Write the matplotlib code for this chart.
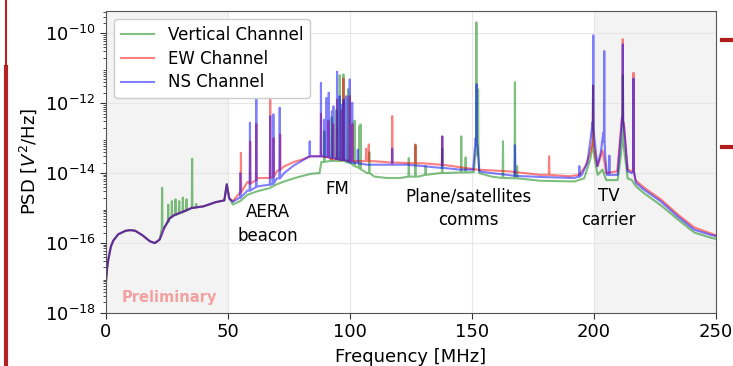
import numpy as np
import matplotlib
matplotlib.use("Agg")
import matplotlib.pyplot as plt
from matplotlib.lines import Line2D
from matplotlib.ticker import LogLocator, NullFormatter

# baseline knots: (frequency MHz, log10 PSD)
low_band = [
    (0.0, -17.1), (0.5, -16.7), (1.0, -16.45), (2.0, -16.1), (3.0, -15.93),
    (5.0, -15.75), (8.0, -15.65), (10.0, -15.63), (12.0, -15.65), (15.0, -15.78),
    (18.0, -15.95), (20.0, -16.0), (22.0, -15.9), (24.0, -15.55), (26.0, -15.3),
    (28.0, -15.2), (31.0, -15.12), (35.0, -15.0), (40.0, -14.95), (45.0, -14.83),
    (48.5, -14.78), (49.5, -14.32), (50.5, -14.72),
]

ew_base = [
    (52, -14.8), (55, -14.55), (58, -14.25), (62, -14.14), (66, -14.14), (70, -13.95),
    (73, -13.81), (77, -13.68), (80, -13.62), (84, -13.52), (88, -13.52), (92, -13.6),
    (96, -13.62), (100, -13.66), (105, -13.66), (110, -13.66), (120, -13.7), (130, -13.72),
    (137, -13.76), (145, -13.83), (152, -13.9), (157, -13.92), (165, -13.95), (178, -14.05),
    (190, -14.09), (194, -14.05), (196.5, -13.8), (198.5, -13.4), (199.4, -13.1),
    (200.5, -13.5), (201.5, -13.8), (203.5, -13.35), (205, -14.0), (209.5, -13.95),
    (211, -12.8), (211.5, -12.4), (212.3, -12.6), (213.8, -13.9), (215.5, -13.95),
    (217, -14.2), (220.6, -14.42), (227.4, -14.75), (234.3, -15.18), (241, -15.55),
    (248, -15.73), (250, -15.78),
]

ns_base = [
    (52, -14.82), (55, -14.7), (58, -14.5), (62, -14.38), (67, -14.33), (70, -14.15),
    (73, -14.0), (77, -13.78), (80, -13.66), (85, -13.52), (88, -13.52), (92, -13.55),
    (96, -13.62), (100, -13.7), (107, -13.76), (115, -13.76), (123, -13.76), (130, -13.8),
    (137, -13.85), (145, -13.9), (150.5, -13.9), (151.5, -13.0), (152.3, -13.2),
    (153, -13.95), (158, -14.0), (164.5, -14.05), (178, -14.11), (192, -14.14),
    (195, -14.05), (197.3, -13.7), (198.8, -12.9), (199.4, -12.55), (200, -12.9),
    (201.4, -13.8), (202.8, -13.4), (203.8, -12.85), (204.6, -13.5), (205.3, -14.05),
    (209.7, -14.05), (211, -12.9), (211.5, -12.4), (212.3, -12.7), (213.8, -13.95),
    (215.5, -14.0), (217.2, -14.28), (220.6, -14.48), (227.4, -14.81), (234.3, -15.24),
    (241.1, -15.62), (248, -15.77), (250, -15.8),
]

vert_base = [
    (52, -14.9), (55, -14.8), (58, -14.62), (62, -14.52), (67, -14.43), (70, -14.32),
    (73, -14.24), (77, -14.15), (80, -14.09), (84, -14.02), (87.5, -14.0), (88.3, -13.68),
    (92, -13.65), (96, -13.65), (100, -13.7), (102, -13.8), (104.6, -13.9), (107, -14.0),
    (110, -14.1), (115, -14.14), (120.7, -14.14), (128, -14.1), (137, -14.0),
    (145, -13.98), (150.8, -13.97), (151.5, -13.3), (152.3, -13.5), (153, -14.0),
    (158, -14.1), (164.5, -14.14), (178, -14.22), (192, -14.24), (196, -14.15),
    (198.5, -13.6), (199.4, -13.25), (200.3, -13.6), (201.5, -14.05), (203.5, -13.9),
    (205, -14.2), (209.7, -14.2), (211, -13.5), (211.5, -13.05), (212.3, -13.3),
    (213.8, -14.15), (215.5, -14.2), (217.2, -14.38), (220.6, -14.58), (227.4, -14.92),
    (234.3, -15.32), (241.1, -15.7), (248, -15.85), (250, -15.88),
]

# narrow lines: (frequency MHz, log10 base, log10 peak)
vert_spikes = [
    (23.0, -15.6, -14.42), (25.5, -15.4, -14.9), (27.0, -15.25, -14.8),
    (28.5, -15.2, -14.75), (30.0, -15.15, -14.8), (31.5, -15.12, -14.7),
    (33.0, -15.07, -14.75), (35.3, -15.0, -13.59), (37.0, -14.98, -14.88),
    (89.5, -13.68, -12.8), (92.5, -13.65, -12.4), (94.5, -13.65, -12.2),
    (95.8, -13.65, -11.2), (97.3, -13.65, -11.18), (99.2, -13.7, -11.6),
    (101.9, -13.8, -12.5), (103.8, -13.85, -12.66), (104.3, -13.88, -12.61),
    (107.9, -14.0, -13.4), (124.1, -14.1, -13.57), (126.8, -14.1, -13.2),
    (131.0, -14.05, -13.8), (137.8, -14.0, -13.3), (145.6, -13.98, -12.95),
    (147.4, -13.98, -13.55), (151.8, -13.3, -9.69), (152.5, -13.5, -11.6),
    (162.7, -14.14, -13.09), (167.6, -14.15, -11.4), (168.5, -14.15, -13.8),
    (199.6, -13.3, -11.5), (211.8, -13.1, -11.2),
]

ew_spikes = [
    (55.3, -14.55, -13.42), (59.1, -14.3, -13.1), (61.6, -14.2, -12.6),
    (67.3, -14.14, -11.75), (68.7, -14.1, -13.0), (71.4, -13.9, -12.9),
    (88.1, -13.52, -12.3), (91.2, -13.55, -12.5), (93.1, -13.6, -12.6),
    (94.7, -13.6, -11.9), (96.6, -13.62, -12.2), (97.3, -13.62, -11.3),
    (99.9, -13.66, -11.8), (101.0, -13.66, -12.6), (106.6, -13.66, -13.3),
    (107.7, -13.66, -13.18), (117.3, -13.7, -12.37), (126.8, -13.72, -13.18),
    (137.8, -13.76, -12.95), (181.6, -14.05, -13.52),
    (199.6, -13.1, -11.5), (211.8, -12.5, -10.17), (216.2, -13.95, -11.13),
]

ns_spikes = [
    (55.0, -14.7, -14.0), (59.0, -14.5, -12.56), (61.6, -14.4, -11.8),
    (67.3, -14.33, -12.37), (68.6, -14.3, -12.32), (71.2, -14.15, -12.13),
    (83.5, -13.52, -13.09), (88.1, -13.52, -11.42), (89.5, -13.52, -12.47),
    (90.4, -13.53, -11.85), (91.3, -13.55, -11.7), (92.6, -13.55, -12.23),
    (93.2, -13.56, -12.09), (94.7, -13.6, -11.1), (95.7, -13.6, -11.8),
    (96.6, -13.62, -12.05), (97.4, -13.62, -11.9), (98.5, -13.64, -11.8),
    (99.9, -13.68, -11.32), (100.9, -13.7, -11.99), (103.2, -13.72, -13.33),
    (117.3, -13.76, -13.3), (137.8, -13.85, -12.95), (151.9, -13.2, -11.46),
    (167.6, -14.08, -13.2), (194.0, -14.1, -13.8),
    (199.7, -12.7, -10.06), (204.2, -13.1, -10.51), (206.3, -14.05, -13.5),
    (211.8, -12.5, -10.32), (216.2, -13.95, -11.3),
]

labels = ["Vertical Channel", "EW Channel", "NS Channel"]
colors = ["green", "red", "blue"]


def build(base, spikes, w=0.14):
    pts = list(low_band) + list(base)
    for f, b, p in spikes:
        pts += [(f - w, b), (f, p), (f + w, b)]
    pts.sort()
    f, lg = np.array(pts).T
    return f, 10.0 ** lg


series = [build(vert_base, vert_spikes), build(ew_base, ew_spikes), build(ns_base, ns_spikes)]

fig = plt.figure(figsize=(7.33, 3.66), dpi=100)
ax = fig.add_axes([0.1446, 0.1448, 0.8322, 0.826])

ax.axvspan(0, 50, color="#f3f3f3", zorder=0, lw=0)
ax.axvspan(200, 250, color="#f3f3f3", zorder=0, lw=0)

for (f, p), lab, c in zip(series, labels, colors):
    ax.plot(f, p, color=c, alpha=0.5, lw=1.5, label=lab)

ax.set_yscale("log")
ax.set_xlim(0, 250)
ax.set_ylim(1e-18, 4.4e-10)
ax.set_yticks([1e-18, 1e-16, 1e-14, 1e-12, 1e-10])
ax.yaxis.set_minor_locator(LogLocator(base=10, subs=np.arange(2, 10), numticks=100))
ax.yaxis.set_minor_formatter(NullFormatter())
ax.set_xticks([0, 50, 100, 150, 200, 250])
ax.grid(True, which="major", color="#e6e6e6", lw=0.8, zorder=0)
ax.set_axisbelow(True)
ax.tick_params(axis="both", which="major", labelsize=13, length=4, color="#333333")
ax.tick_params(axis="y", which="minor", length=2, color="#333333")
for s in ax.spines.values():
    s.set_color("#555555")

ax.set_xlabel("Frequency [MHz]", fontsize=13, labelpad=5)
ax.set_ylabel("PSD [$V^2$/Hz]", fontsize=13)

ax.text(66.5, 10 ** -15.45, "AERA\nbeacon", fontsize=12, ha="center", va="center", linespacing=1.4)
ax.text(95, 10 ** -14.45, "FM", fontsize=12, ha="center", va="center")
ax.text(148.5, 10 ** -15.0, "Plane/satellites\ncomms", fontsize=12, ha="center", va="center", linespacing=1.4)
ax.text(206, 10 ** -15.0, "TV\ncarrier", fontsize=12, ha="center", va="center", linespacing=1.4)
ax.text(26, 10 ** -17.55, "Preliminary", fontsize=10.5, fontweight="bold", color="#f2a0a0",
        ha="center", va="center")

ax.legend(loc="upper left", fontsize=12, frameon=True, framealpha=1.0, edgecolor="#cccccc",
          handlelength=2.0, labelspacing=0.35)

# slide decorations around the figure
fig.add_artist(Line2D([6 / 733, 6 / 733], [1, 1 - 67 / 366], color="#b22222", lw=1.5))
fig.add_artist(Line2D([6 / 733, 6 / 733], [1 - 67 / 366, 0], color="#b22222", lw=3))
fig.add_artist(Line2D([722 / 733, 1], [1 - 40 / 366, 1 - 40 / 366], color="#b01c1c", lw=3))
fig.add_artist(Line2D([722 / 733, 1], [1 - 147 / 366, 1 - 147 / 366], color="#b01c1c", lw=3))

fig.savefig("out.png", dpi=100)
